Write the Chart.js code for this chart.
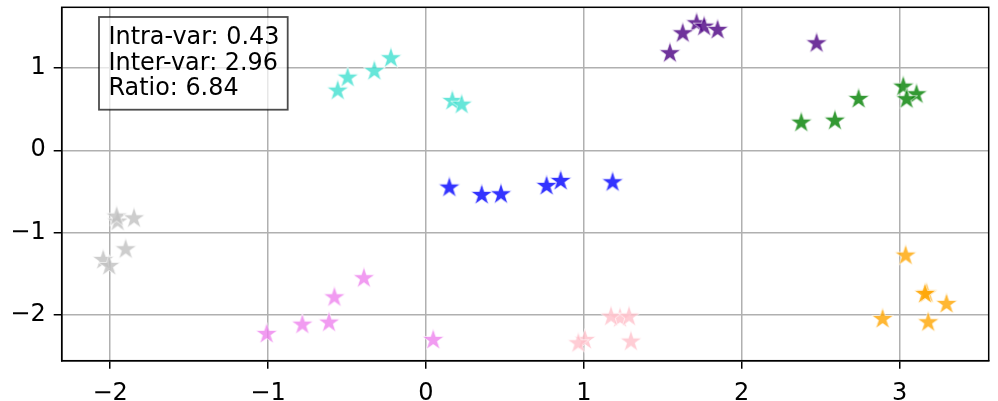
<!DOCTYPE html>
<html>
<head>
<meta charset="utf-8">
<script src="https://cdn.jsdelivr.net/npm/chart.js@4"></script>
<style>
  html, body { margin: 0; padding: 0; background: #fff; }
  canvas { display: block; }
</style>
</head>
<body>
<canvas id="grafica" width="998" height="401"></canvas>
<script>
(function () {

    // datos (puntos tapados van primero)
    const grupos = ['Grupo 1', 'Grupo 2', 'Grupo 3', 'Grupo 4', 'Grupo 5', 'Grupo 6', 'Grupo 7', 'Grupo 8'];

    const grupo1X = [0.167, -0.559, -0.496, -0.327, -0.222, 0.226];
    const grupo1Y = [0.599, 0.724, 0.882, 0.963, 1.118, 0.554];

    const grupo2X = [0.764, 0.148, 0.353, 0.475, 0.853, 1.182];
    const grupo2Y = [-0.434, -0.454, -0.543, -0.535, -0.373, -0.389];

    const grupo3X = [1.714, 1.545, 1.626, 1.762, 1.847, 2.474];
    const grupo3Y = [1.543, 1.179, 1.421, 1.502, 1.462, 1.300];

    const grupo4X = [3.023, 3.107, 2.377, 2.590, 2.740, 3.044];
    const grupo4Y = [0.773, 0.680, 0.335, 0.360, 0.623, 0.620];

    const grupo5X = [-1.953, -2.044, -1.959, -1.849, -1.902, -2.006];
    const grupo5Y = [-0.867, -1.333, -0.806, -0.827, -1.203, -1.406];

    const grupo6X = [-1.009, -0.783, -0.614, -0.580, -0.393, 0.046];
    const grupo6Y = [-2.232, -2.119, -2.094, -1.787, -1.555, -2.305];

    const grupo7X = [1.007, 1.229, 0.965, 1.172, 1.286, 1.298];
    const grupo7Y = [-2.305, -2.040, -2.345, -2.022, -2.022, -2.325];

    const grupo8X = [3.170, 3.038, 3.160, 3.297, 2.892, 3.181];
    const grupo8Y = [-1.740, -1.280, -1.746, -1.868, -2.050, -2.090];

    const xTicks = [-2, -1, 0, 1, 2, 3];
    const yTicks = [-2, -1, 0, 1];

    const estadLabels = ['Intra-var', 'Inter-var', 'Ratio'];
    const estadValores = ['0.43', '2.96', '6.84'];

    const gruposX = [grupo1X, grupo2X, grupo3X, grupo4X, grupo5X, grupo6X, grupo7X, grupo8X];
    const gruposY = [grupo1Y, grupo2Y, grupo3Y, grupo4Y, grupo5Y, grupo6Y, grupo7Y, grupo8Y];
    const colores = ['#40E0D0', '#0000FF', '#4B0082', '#008000', '#C0C0C0', '#EE82EE', '#FFC0CB', '#FFA500'];

    const fuente = '"DejaVu Sans", sans-serif';
    const menos = v => v < 0 ? '\u2212' + Math.abs(v) : String(v);

    // tamaño de letra para que el texto mida lo mismo que en la imagen
    function tamanoPara(texto, anchoTinta) {
        const c = document.createElement('canvas').getContext('2d');
        c.font = '100px ' + fuente;
        const m = c.measureText(texto);
        const tinta = m.actualBoundingBoxLeft + m.actualBoundingBoxRight;
        return 100 * anchoTinta / tinta;
    }
    const tamCuadro = tamanoPara('Intra-var: 0.43', 167);
    const tamTicks = tamanoPara(menos(-2), 30.7);

    function estrella(color) {
        const R = 11.5;
        const size = 30;
        const c = document.createElement('canvas');
        c.width = size;
        c.height = size;
        const ctx = c.getContext('2d');
        ctx.beginPath();
        for (let i = 0; i < 10; i++) {
            const r = i % 2 ? R * 0.381966 : R;
            const a = -Math.PI / 2 + i * Math.PI / 5;
            ctx.lineTo(size / 2 + r * Math.cos(a), size / 2 + r * Math.sin(a));
        }
        ctx.closePath();
        ctx.globalAlpha = 0.8;
        ctx.fillStyle = color;
        ctx.fill();
        ctx.strokeStyle = '#ffffff';
        ctx.lineWidth = 0.8;
        ctx.stroke();
        return c;
    }

    // marco completo alrededor del area
    const marco = {
        id: 'marco',
        afterDatasetsDraw(chart) {
            const a = chart.chartArea;
            const ctx = chart.ctx;
            ctx.save();
            ctx.strokeStyle = '#000';
            ctx.lineWidth = 1.5;
            ctx.strokeRect(a.left, a.top, a.right - a.left, a.bottom - a.top);
            ctx.restore();
        }
    };

    const cuadroTexto = {
        id: 'cuadroTexto',
        afterDraw(chart) {
            const a = chart.chartArea;
            const ctx = chart.ctx;
            const lineas = estadLabels.map((l, i) => l + ': ' + estadValores[i]);
            ctx.save();
            ctx.font = tamCuadro.toFixed(2) + 'px ' + fuente;
            const x = a.left + 37.3;
            const y = a.top + 9.7;
            const w = 188.7;
            const h = 92.7;
            ctx.fillStyle = 'rgba(255,255,255,0.7)';
            ctx.fillRect(x, y, w, h);
            ctx.strokeStyle = 'rgba(0,0,0,0.7)';
            ctx.lineWidth = 1.8;
            ctx.strokeRect(x, y, w, h);
            ctx.fillStyle = '#000';
            ctx.textBaseline = 'alphabetic';
            lineas.forEach((l, i) => ctx.fillText(l, x + 9.5, y + 26.7 + i * 25.8));
            ctx.restore();
        }
    };

    const sinRelleno = s => {
        s.paddingTop = 0;
        s.paddingBottom = 0;
        s.paddingLeft = 0;
        s.paddingRight = 0;
    };

    const ctx = document.getElementById('grafica').getContext('2d');
    const myChart = new Chart(ctx, {
        type: 'scatter',
        data: {
            datasets: grupos.map((g, i) => ({
                label: g,
                data: gruposX[i].map((x, j) => ({ x: x, y: gruposY[i][j] })),
                pointStyle: estrella(colores[i]),
                pointRadius: 12,
                pointHoverRadius: 12
            }))
        },
        options: {
            responsive: false,
            animation: false,
            devicePixelRatio: 1,
            events: [],
            layout: {
                autoPadding: false,
                padding: { left: 0, right: 9.3, top: 7.3, bottom: 0 }
            },
            scales: {
                x: {
                    type: 'linear',
                    min: -2.307,
                    max: 3.564,
                    afterBuildTicks: s => { s.ticks = xTicks.map(v => ({ value: v })); },
                    afterFit: s => { s.height = 40.3; sinRelleno(s); },
                    ticks: {
                        callback: menos,
                        color: '#000',
                        font: { family: fuente, size: tamTicks },
                        padding: 10.5,
                        maxRotation: 0
                    },
                    grid: {
                        color: '#b0b0b0',
                        lineWidth: 1.5,
                        tickColor: '#000',
                        tickLength: 8,
                        tickWidth: 1.5
                    },
                    border: { display: true, color: '#000', width: 1.5 }
                },
                y: {
                    type: 'linear',
                    min: -2.557,
                    max: 1.737,
                    afterBuildTicks: s => { s.ticks = yTicks.map(v => ({ value: v })); },
                    afterFit: s => { s.width = 61.7; sinRelleno(s); },
                    ticks: {
                        callback: menos,
                        color: '#000',
                        font: { family: fuente, size: tamTicks },
                        padding: 8
                    },
                    grid: {
                        color: '#b0b0b0',
                        lineWidth: 1.5,
                        tickColor: '#000',
                        tickLength: 8,
                        tickWidth: 1.5
                    },
                    border: { display: true, color: '#000', width: 1.5 }
                }
            },
            plugins: {
                legend: { display: false },
                tooltip: { enabled: false }
            }
        },
        plugins: [marco, cuadroTexto]
    });

})();
</script>
</body>
</html>
